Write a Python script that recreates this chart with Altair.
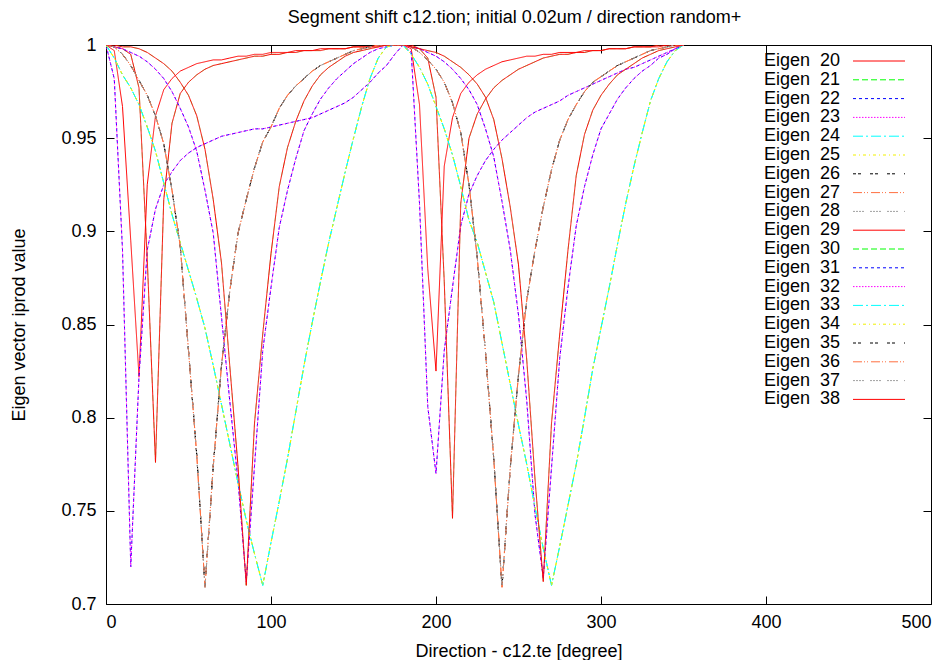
import altair as alt
import pandas as pd

# Direction angles (degree), sampled every 5 degrees
angles = list(range(0, 355, 5))

# Distinct curves (values at each angle above)
curve_r1 = [1.000, 0.997, 0.967, 0.895, 0.822, 0.925, 0.962, 0.976, 0.982, 0.986, 0.988, 0.990,
            0.991, 0.992, 0.992, 0.993, 0.994, 0.994, 0.995, 0.995, 0.996, 0.996, 0.996, 0.997,
            0.997, 0.997, 0.998, 0.998, 0.998, 0.998, 0.999, 0.999, 0.999, 0.999, 1.000, 1.000,
            1.000, 0.998, 0.968, 0.880, 0.825, 0.935, 0.961, 0.974, 0.980, 0.984, 0.987, 0.989,
            0.991, 0.992, 0.993, 0.994, 0.994, 0.995, 0.995, 0.996, 0.996, 0.996, 0.997, 0.997,
            0.997, 0.998, 0.998, 0.998, 0.999, 0.999, 0.999, 0.999, 1.000, 1.000, 1.000]
curve_r2 = [1.000, 0.999, 0.998, 0.995, 0.977, 0.885, 0.776, 0.917, 0.958, 0.974, 0.980, 0.984,
            0.987, 0.989, 0.990, 0.991, 0.992, 0.993, 0.994, 0.994, 0.995, 0.995, 0.996, 0.996,
            0.997, 0.997, 0.997, 0.998, 0.998, 0.998, 0.999, 0.999, 0.999, 1.000, 1.000, 1.000,
            1.000, 1.000, 0.998, 0.993, 0.972, 0.873, 0.746, 0.915, 0.950, 0.963, 0.971, 0.977,
            0.981, 0.984, 0.987, 0.989, 0.991, 0.993, 0.994, 0.995, 0.995, 0.996, 0.996, 0.997,
            0.997, 0.998, 0.998, 0.998, 0.999, 0.999, 0.999, 1.000, 1.000, 1.000, 1.000]
curve_r3 = [1.000, 1.000, 0.999, 0.999, 0.998, 0.996, 0.993, 0.990, 0.986, 0.980, 0.973, 0.962,
            0.944, 0.917, 0.883, 0.828, 0.774, 0.710, 0.797, 0.845, 0.888, 0.924, 0.945, 0.959,
            0.970, 0.978, 0.984, 0.988, 0.991, 0.994, 0.996, 0.997, 0.998, 0.999, 1.000, 1.000,
            1.000, 0.999, 0.998, 0.997, 0.996, 0.994, 0.991, 0.988, 0.984, 0.979, 0.972, 0.960,
            0.939, 0.913, 0.882, 0.831, 0.767, 0.712, 0.797, 0.845, 0.890, 0.930, 0.952, 0.965,
            0.973, 0.979, 0.984, 0.987, 0.990, 0.993, 0.995, 0.997, 0.998, 0.999, 1.000]
curve_p1 = [1.000, 0.982, 0.890, 0.720, 0.822, 0.890, 0.912, 0.925, 0.932, 0.938, 0.942, 0.945,
            0.947, 0.949, 0.951, 0.952, 0.953, 0.954, 0.955, 0.955, 0.956, 0.957, 0.958, 0.959,
            0.960, 0.961, 0.963, 0.965, 0.967, 0.969, 0.972, 0.976, 0.980, 0.985, 0.989, 0.995,
            1.000, 0.996, 0.915, 0.806, 0.770, 0.836, 0.870, 0.903, 0.920, 0.930, 0.938, 0.944,
            0.949, 0.953, 0.957, 0.961, 0.964, 0.966, 0.968, 0.970, 0.973, 0.975, 0.977, 0.979,
            0.981, 0.983, 0.985, 0.987, 0.988, 0.990, 0.992, 0.994, 0.996, 0.998, 1.000]
curve_p2 = [1.000, 0.999, 0.998, 0.996, 0.994, 0.991, 0.987, 0.982, 0.975, 0.966, 0.956, 0.943,
            0.922, 0.899, 0.854, 0.809, 0.766, 0.712, 0.774, 0.836, 0.870, 0.902, 0.922, 0.939,
            0.954, 0.963, 0.971, 0.977, 0.982, 0.986, 0.990, 0.993, 0.996, 0.998, 0.999, 1.000,
            1.000, 0.999, 0.998, 0.996, 0.994, 0.991, 0.987, 0.982, 0.976, 0.968, 0.955, 0.940,
            0.916, 0.890, 0.855, 0.809, 0.748, 0.714, 0.773, 0.832, 0.870, 0.903, 0.924, 0.941,
            0.955, 0.963, 0.971, 0.977, 0.982, 0.986, 0.989, 0.993, 0.995, 0.998, 1.000]
curve_c1 = [1.000, 0.993, 0.984, 0.977, 0.968, 0.956, 0.943, 0.926, 0.909, 0.894, 0.879, 0.864,
            0.848, 0.828, 0.807, 0.786, 0.765, 0.745, 0.727, 0.710, 0.733, 0.755, 0.778, 0.803,
            0.828, 0.851, 0.873, 0.894, 0.913, 0.932, 0.950, 0.967, 0.982, 0.993, 0.999, 1.000,
            1.000, 0.995, 0.988, 0.979, 0.967, 0.955, 0.941, 0.924, 0.906, 0.894, 0.878, 0.862,
            0.840, 0.818, 0.796, 0.775, 0.752, 0.730, 0.710, 0.731, 0.753, 0.775, 0.800, 0.826,
            0.848, 0.870, 0.893, 0.915, 0.935, 0.953, 0.970, 0.982, 0.991, 0.997, 1.000]
curve_o1 = [1.000, 0.999, 0.995, 0.989, 0.981, 0.973, 0.962, 0.947, 0.922, 0.892, 0.836, 0.780,
            0.709, 0.774, 0.828, 0.868, 0.899, 0.917, 0.934, 0.948, 0.956, 0.966, 0.973, 0.978,
            0.982, 0.986, 0.989, 0.991, 0.993, 0.995, 0.997, 0.998, 0.999, 1.000, 1.000, 1.000,
            1.000, 0.999, 0.996, 0.992, 0.987, 0.980, 0.969, 0.953, 0.925, 0.886, 0.835, 0.778,
            0.709, 0.773, 0.823, 0.863, 0.890, 0.913, 0.933, 0.949, 0.960, 0.968, 0.975, 0.980,
            0.983, 0.986, 0.989, 0.991, 0.993, 0.995, 0.997, 0.998, 0.999, 1.000, 1.000]

series_ids = list(range(20, 39))
series_curve = {20: curve_r1, 21: curve_r2, 22: curve_p1, 23: curve_p1, 24: curve_c1,
                25: curve_c1, 26: curve_o1, 27: curve_o1, 28: curve_o1, 29: curve_r2,
                30: curve_r3, 31: curve_p2, 32: curve_p2, 33: curve_c1, 34: curve_c1,
                35: curve_o1, 36: curve_o1, 37: curve_o1, 38: curve_r3}
labels = ["Eigen\u00a0\u00a0" + str(i) for i in series_ids]

base_colors = ["#ff0000", "#00ff00", "#0000ff", "#ff00ff", "#00ffff",
               "#f0f000", "#000000", "#ff7040", "#a0a0a0"]
base_dashes = [[1, 0], [6, 3], [3, 3], [1.5, 1.5], [10, 3, 2, 3],
               [3, 3, 1, 3], [3, 2, 3, 9], [9, 2, 1, 2, 1, 3], [2, 1, 2, 1, 2, 1, 2, 6]]
colors = [base_colors[k % 9] for k in range(len(series_ids))]
dashes = [base_dashes[k % 9] for k in range(len(series_ids))]

x_ticks = [0, 100, 200, 300, 400, 500]
y_ticks = [0.7, 0.75, 0.8, 0.85, 0.9, 0.95, 1.0]

# green series lie exactly under red ones, so draw them first
draw_order = [21, 30, 20, 22, 23, 24, 25, 26, 27, 28, 29, 31, 32, 33, 34, 35, 36, 37, 38]
hidden_under = {21, 30}

rows = []
for sid, lab in zip(series_ids, labels):
    for a, v in zip(angles, series_curve[sid]):
        rows.append({"series": lab, "deg": a, "val": v})
df = pd.DataFrame(rows)

FONT = "Liberation Sans"
xs = alt.Scale(domain=[0, 500], nice=False, zero=False)
ys = alt.Scale(domain=[0.7, 1.0], nice=False, zero=False)
cs = alt.Scale(domain=labels, range=colors)
ds = alt.Scale(domain=labels, range=dashes)

# legend sample line drawn to the right of its (right-aligned) label
leg = alt.Legend(title=None, orient="none", legendX=716, legendY=7,
                 symbolType="M4.4,0H14.8", symbolSize=100, symbolStrokeWidth=1,
                 symbolOffset=0,
                 labelFontSize=18, labelFont=FONT, labelColor="black",
                 labelAlign="right", labelOffset=0, rowPadding=0.8,
                 padding=0, labelLimit=0)

x_bottom = alt.Axis(orient="bottom", values=x_ticks, format="d", offset=-8, tickSize=8,
                    labelPadding=9, title="Direction - c12.te [degree]", titlePadding=11)
y_left = alt.Axis(orient="left", values=y_ticks, format="~g", offset=-8, tickSize=8,
                  labelPadding=10, title="Eigen vector iprod value", titlePadding=32)
x_top = alt.Axis(orient="top", values=x_ticks, labels=False, offset=-8, tickSize=8, title=None)
y_right = alt.Axis(orient="right", values=y_ticks, labels=False, offset=-8, tickSize=8, title=None)

layers = []
for k, sid in enumerate(draw_order):
    lab = labels[series_ids.index(sid)]
    if k == 0:
        xa, ya = x_bottom, y_left
    elif sid == 20:
        xa, ya = x_top, y_right
    else:
        xa, ya = None, None
    sw = 0.4 if sid in hidden_under else 1
    layer = alt.Chart(df).transform_filter(alt.datum.series == lab).mark_line(
        strokeWidth=sw, clip=True
    ).encode(
        x=alt.X("deg:Q", scale=xs, axis=xa),
        y=alt.Y("val:Q", scale=ys, axis=ya),
        color=alt.Color("series:N", scale=cs, legend=leg),
        strokeDash=alt.StrokeDash("series:N", scale=ds, legend=leg),
    )
    layers.append(layer)

chart = alt.layer(*layers).resolve_axis(
    x="independent", y="independent"
).properties(
    width=825, height=559,
    title=alt.TitleParams("Segment shift c12.tion; initial 0.02um / direction random+",
                          fontSize=18, fontWeight="normal", font=FONT, color="black",
                          offset=9, anchor="middle", dx=-4),
    autosize=alt.AutoSizeParams(type="none"),
    padding={"left": 98, "top": 37, "right": 13, "bottom": 56},
).configure_axis(
    grid=False, domain=False, labelFont=FONT, titleFont=FONT, labelFontSize=18,
    titleFontSize=18, titleFontWeight="normal", labelColor="black", titleColor="black",
    tickColor="black", tickWidth=1
).configure_view(stroke="black", strokeWidth=1)

chart.save("out.html", embed_options={"renderer": "svg", "actions": False})
